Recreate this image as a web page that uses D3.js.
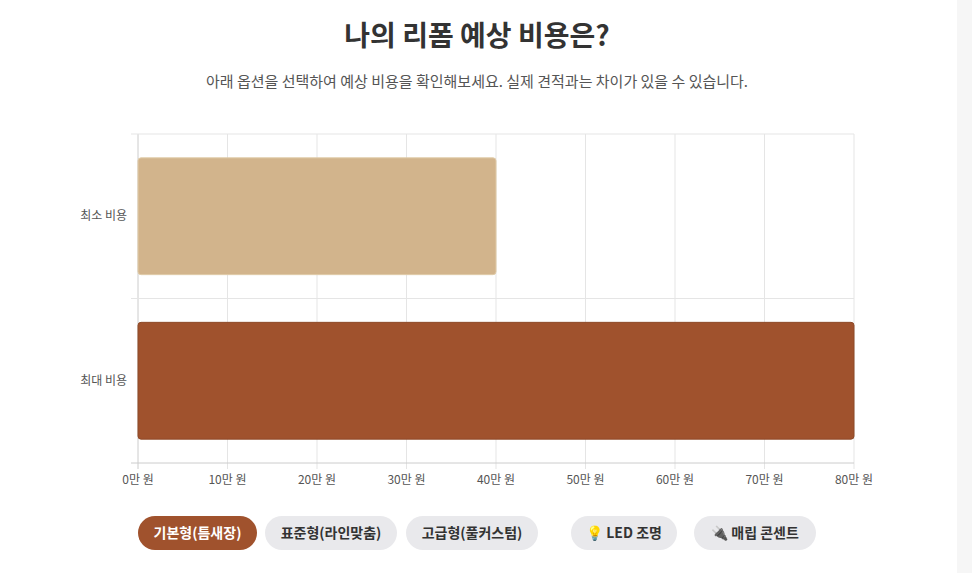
<!DOCTYPE html>
<html><head><meta charset="utf-8">
<script src="https://cdn.jsdelivr.net/npm/d3@7"></script>
<style>
body{margin:0;background:#fff;font-family:"Noto Sans CJK KR","Noto Sans",sans-serif;}
#strip{position:absolute;left:957px;top:0;width:15px;height:573px;background:#f6f6f6;}
</style></head><body>
<div id="strip"></div>
<svg id="chart" width="957" height="573"></svg>
<script>
const categories = ['최소 비용', '최대 비용'];
const values = [40, 80];          // 만 원
const barColors = ['#d2b48c', '#a0522d'];
const xTicks = [0, 10, 20, 30, 40, 50, 60, 70, 80];
const buttons = [
  { label: '기본형(틈새장)', active: true, x: 138, w: 119 },
  { label: '표준형(라인맞춤)', active: false, x: 265, w: 132 },
  { label: '고급형(풀커스텀)', active: false, x: 406, w: 132 },
  { label: '💡 LED 조명', active: false, x: 571, w: 106 },
  { label: '🔌 매립 콘센트', active: false, x: 694, w: 122 }
];

const svg = d3.select('#chart');

svg.append('text').attr('x', 477).attr('y', 46).attr('text-anchor', 'middle')
  .attr('font-size', 28).attr('font-weight', 700).attr('fill', '#333')
  .text('나의 리폼 예상 비용은?');
svg.append('text').attr('x', 477).attr('y', 87).attr('text-anchor', 'middle')
  .attr('font-size', 15).attr('fill', '#555')
  .text('아래 옵션을 선택하여 예상 비용을 확인해보세요. 실제 견적과는 차이가 있을 수 있습니다.');

const area = { left: 138, right: 854, top: 134, bottom: 463 };
const x = d3.scaleLinear().domain([0, 80]).range([area.left, area.right]);
const y = d3.scaleBand().domain(categories).range([area.top, area.bottom]).paddingInner(0.29).paddingOuter(0.145);
const yb = d3.scaleBand().domain(categories).range([area.top, area.bottom]);

const grid = svg.append('g');
grid.selectAll('line.v').data(xTicks).join('line')
  .attr('x1', d => x(d)).attr('x2', d => x(d))
  .attr('y1', area.top).attr('y2', area.bottom + 6)
  .attr('stroke', d => d === 0 ? '#ccc' : '#e5e5e5');
const hLines = [area.top, yb(categories[1]), area.bottom];
grid.selectAll('line.h').data(hLines).join('line')
  .attr('x1', area.left - 7).attr('x2', area.right)
  .attr('y1', d => d).attr('y2', d => d)
  .attr('stroke', (d, i) => i === 2 ? '#ccc' : '#e5e5e5');

svg.append('g').selectAll('rect').data(categories).join('rect')
  .attr('x', x(0)).attr('y', d => y(d))
  .attr('width', (d, i) => x(values[i]) - x(0)).attr('height', y.bandwidth())
  .attr('rx', 3).attr('fill', (d, i) => barColors[i])
  .attr('stroke', (d, i) => i === 0 ? '#e0cba8' : '#8e4a28').attr('stroke-width', 1);

svg.append('g').selectAll('text').data(categories).join('text')
  .attr('x', area.left - 11).attr('y', d => yb(d) + yb.bandwidth() / 2 + 4)
  .attr('text-anchor', 'end').attr('font-size', 12).attr('fill', '#555').text(d => d);

svg.append('g').selectAll('text').data(xTicks).join('text')
  .attr('x', d => x(d)).attr('y', area.bottom + 21)
  .attr('text-anchor', 'middle').attr('font-size', 12).attr('fill', '#555')
  .text(d => d === 0 ? '0만 원' : d + '만 원');

const b = svg.append('g').selectAll('g').data(buttons).join('g');
b.append('rect').attr('x', d => d.x).attr('y', 516).attr('width', d => d.w).attr('height', 34)
  .attr('rx', 17).attr('fill', d => d.active ? '#a0522d' : '#e9e9ec');
b.append('text').attr('x', d => d.x + d.w / 2).attr('y', 538).attr('text-anchor', 'middle')
  .attr('font-size', 14).attr('font-weight', 700).attr('fill', d => d.active ? '#fff' : '#333')
  .text(d => d.label);
</script></body></html>
